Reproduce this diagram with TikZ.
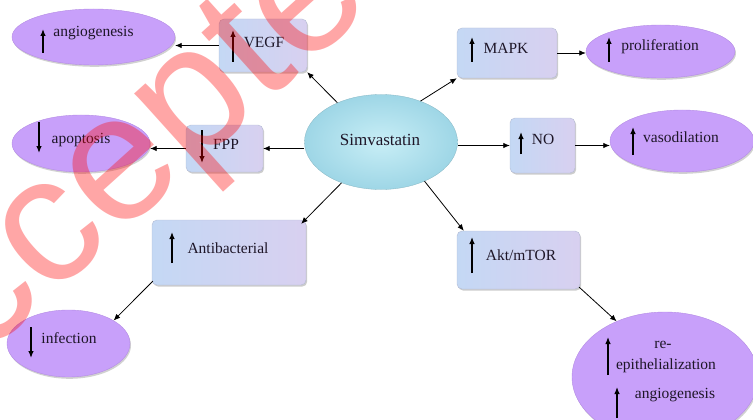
\documentclass[tikz,border=0pt]{standalone}
\usepackage{fontspec}
\setmainfont{Liberation Serif}
\newfontfamily\wmfont{Liberation Sans}
\usetikzlibrary{shapes.geometric,arrows.meta,shadows}
\definecolor{boxA}{RGB}{196,216,244}
\definecolor{boxB}{RGB}{216,208,240}
\definecolor{boxedge}{RGB}{180,188,212}
\definecolor{purp}{RGB}{200,160,250}
\definecolor{purpedge}{RGB}{180,140,228}
\definecolor{txt}{RGB}{30,22,40}
\definecolor{simin}{RGB}{200,238,246}
\definecolor{simout}{RGB}{158,214,230}
\begin{document}
\begin{tikzpicture}[x=1pt,y=-1pt,
  box/.style={rectangle,rounded corners=5pt,left color=boxA,right color=boxB,draw=boxedge,line width=0.4pt,
    drop shadow={shadow xshift=1.2pt,shadow yshift=-1.6pt,fill=gray!80,opacity=0.5},inner sep=0},
  oval/.style={ellipse,fill=purp,draw=purpedge,line width=0.4pt,
    drop shadow={shadow xshift=1pt,shadow yshift=-1.8pt,fill=gray!80,opacity=0.45},inner sep=0},
  lbl/.style={font=\fontsize{15.5}{17}\selectfont,text=txt,inner sep=0},
  conn/.style={-{Latex[length=6.5pt,width=5.5pt]},line width=0.8pt,black},
  updn/.style={-{Latex[length=7pt,width=5.5pt]},line width=1.2pt,black},
]
\useasboundingbox (0,0) rectangle (753,420);
\clip (0,0) rectangle (753,420);

% centre
\node[ellipse,minimum width=153pt,minimum height=95pt,inner sep=0,draw=simout!85!black,line width=0.3pt,
  inner color=simin,outer color=simout] (sim) at (381,142) {};
\node[lbl,font=\fontsize{17}{19}\selectfont] (simt) at (380,140) {Simvastatin};

% boxes
\node[box,minimum width=88pt,minimum height=53pt] (vegf) at (263,45.5) {};
\node[box,minimum width=77pt,minimum height=47pt] (fpp) at (224.5,148.5) {};
\node[box,minimum width=154pt,minimum height=65pt] (antib) at (229,252.5) {};
\node[box,minimum width=100pt,minimum height=50pt] (mapk) at (507,53) {};
\node[box,minimum width=65pt,minimum height=55pt] (no) at (542.5,145.5) {};
\node[box,minimum width=123pt,minimum height=58pt] (akt) at (518.5,260) {};

% ovals
\node[oval,minimum width=163pt,minimum height=56pt] (ang) at (93.5,37) {};
\node[oval,minimum width=138pt,minimum height=57pt] (apop) at (81,143.5) {};
\node[oval,minimum width=123pt,minimum height=67pt] (inf) at (68.5,343.5) {};
\node[oval,minimum width=149pt,minimum height=53pt] (prol) at (660.5,51.5) {};
\node[oval,minimum width=144pt,minimum height=62pt] (vaso) at (682,141) {};
\node[oval,minimum width=186pt,minimum height=130pt] (reepi) at (665,377) {};

% labels
\node[lbl] (vegft) at (264,42) {VEGF};
\node[lbl] (fppt) at (226,144) {FPP};
\node[lbl] (antibt) at (228,248) {Antibacterial};
\node[lbl] (mapkt) at (506,48) {MAPK};
\node[lbl] (not) at (543,139) {NO};
\node[lbl] (aktt) at (521,255) {Akt/mTOR};
\node[lbl] (angt) at (93.5,33) {angiogenesis};
\node[lbl] (apopt) at (81,140) {apoptosis};
\node[lbl] (inft) at (69,338) {infection};
\node[lbl] (prolt) at (660,47) {proliferation};
\node[lbl] (vasot) at (681,137) {vasodilation};
\node[lbl] (ret) at (663,345) {re-};
\node[lbl] (epit) at (666,366) {epithelialization};
\node[lbl] (ang2t) at (675,395) {angiogenesis};

% small up / down arrows
\draw[updn] ([shift={(-30,16.5)}]vegf.center) -- ++(0,-32);
\draw[updn] ([shift={(-22.5,-18.5)}]fpp.center) -- ++(0,33);
\draw[updn] ([shift={(-57,10.5)}]antib.center) -- ++(0,-31);
\draw[updn] ([shift={(-35,9)}]mapk.center) -- ++(0,-25);
\draw[updn] ([shift={(-21.5,8.5)}]no.center) -- ++(0,-22);
\draw[updn] ([shift={(-46.5,13)}]akt.center) -- ++(0,-36);
\draw[updn] ([shift={(-50.5,16)}]ang.center) -- ++(0,-24);
\draw[updn] ([shift={(-42,-21.5)}]apop.center) -- ++(0,31);
\draw[updn] ([shift={(-37.5,-16.5)}]inf.center) -- ++(0,31);
\draw[updn] ([shift={(-51.5,10.5)}]prol.center) -- ++(0,-25);
\draw[updn] ([shift={(-49,14)}]vaso.center) -- ++(0,-28);
\draw[updn] ([shift={(-57,-2)}]reepi.center) -- ++(0,-38);
\draw[updn] ([shift={(-48,41)}]reepi.center) -- ++(0,-31);

% connectors
\draw[conn] (sim.138) -- (vegf.south east);
\draw[conn] (sim.west |- fpp.east) -- (fpp.east);
\draw[conn] (vegf.west) -- (vegf.west -| ang.east);
\draw[conn] (fpp.west) -- (fpp.west -| apop.east);
\draw[conn] (sim.226) -- ([shift={(-5,4)}]antib.north east);
\draw[conn] ([shift={(1,-4)}]antib.south west) -- (inf.27);
\draw[conn] (sim.46) -- (mapk.south west);
\draw[conn] (mapk.east) -- (mapk.east -| prol.west);
\draw[conn] (sim.east |- no.west) -- (no.west);
\draw[conn] (no.east) -- (no.east -| vaso.west);
\draw[conn] (sim.-42) -- ([xshift=7pt]akt.north west);
\draw[conn] ([shift={(-1,-2)}]akt.south east) -- (reepi.131);

% watermark
\node[rotate=42,anchor=base west,inner sep=0,text=red,text opacity=0.35,
  font=\wmfont\fontsize{180}{180}\selectfont] (wm) at (-108,440) {Accepted};
\end{tikzpicture}
\end{document}
